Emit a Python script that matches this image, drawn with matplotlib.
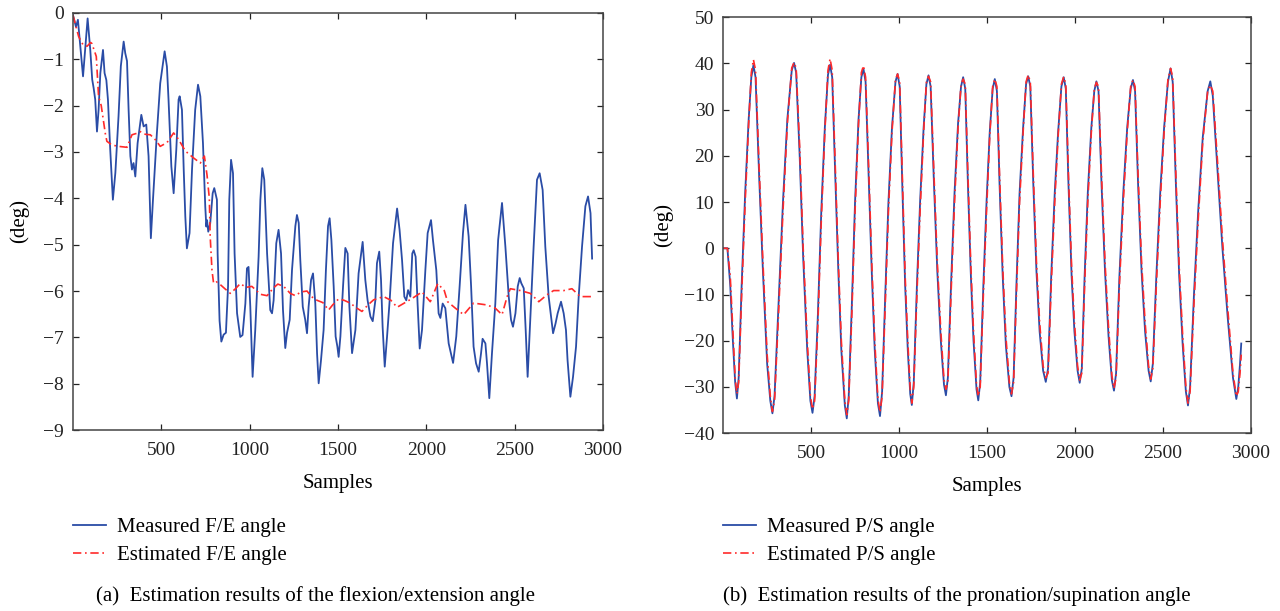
"""Two panels: measured vs estimated F/E and P/S wrist angles."""
import matplotlib

matplotlib.use("Agg")
import matplotlib.pyplot as plt
from matplotlib.lines import Line2D

# ---- F/E angle (left panel) ----
fe_meas_x = [
    0, 17, 28, 57, 70, 83, 98, 109, 117, 126, 136, 145, 155, 164, 170, 179,
    189, 198, 211, 226, 240, 258, 271, 287, 296, 306, 315, 325, 334, 343, 353,
    366, 387, 400, 415, 428, 441, 453, 475, 494, 519, 532, 541, 557, 570, 585,
    598, 604, 617, 627, 636, 645, 660, 674, 692, 708, 721, 736, 749, 755, 759,
    766, 777, 791, 800, 815, 819, 830, 840, 853, 866, 878, 885, 895, 906, 915,
    929, 947, 960, 976, 985, 994, 1004, 1017, 1032, 1051, 1061, 1072, 1083,
    1099, 1117, 1127, 1136, 1151, 1164, 1178, 1189, 1202, 1212, 1227, 1240,
    1259, 1268, 1278, 1287, 1301, 1315, 1325, 1334, 1348, 1359, 1372, 1382,
    1391, 1404, 1419, 1432, 1444, 1453, 1463, 1476, 1487, 1497, 1504, 1514,
    1529, 1542, 1555, 1565, 1580, 1599, 1617, 1640, 1655, 1668, 1684, 1697,
    1712, 1721, 1734, 1744, 1753, 1765, 1778, 1793, 1812, 1835, 1849, 1863,
    1876, 1887, 1897, 1910, 1921, 1929, 1940, 1951, 1963, 1976, 1995, 2008,
    2027, 2038, 2057, 2070, 2080, 2093, 2108, 2127, 2152, 2170, 2189, 2208,
    2222, 2240, 2254, 2268, 2282, 2297, 2310, 2319, 2335, 2344, 2357, 2372,
    2391, 2407, 2429, 2448, 2467, 2480, 2491, 2505, 2518, 2529, 2538, 2552,
    2563, 2574, 2589, 2608, 2627, 2642, 2659, 2674, 2693, 2718, 2732, 2744,
    2763, 2778, 2791, 2800, 2816, 2831, 2848, 2863, 2882, 2901, 2916, 2930,
    2939,
]
fe_meas_y = [
    -0.05, -0.30, -0.15, -1.37, -0.74, -0.12, -0.80, -1.44, -1.62, -1.87,
    -2.56, -2.10, -1.30, -1.00, -0.80, -1.30, -1.45, -1.87, -2.95, -4.03,
    -3.45, -2.23, -1.15, -0.62, -0.87, -1.04, -2.09, -3.09, -3.38, -3.24,
    -3.53, -2.81, -2.20, -2.45, -2.41, -3.09, -4.86, -4.03, -2.60, -1.52,
    -0.83, -1.16, -1.87, -3.31, -3.89, -2.95, -1.87, -1.80, -2.09, -3.38,
    -4.39, -5.08, -4.75, -3.38, -2.09, -1.55, -1.80, -2.81, -4.18, -4.61,
    -4.47, -4.72, -4.54, -3.89, -3.78, -4.03, -5.19, -6.64, -7.09, -6.94,
    -6.90, -5.90, -4.03, -3.17, -3.46, -5.19, -6.48, -6.99, -6.95, -6.27,
    -5.51, -5.48, -6.34, -7.85, -6.84, -5.26, -4.03, -3.35, -3.60, -5.19,
    -6.41, -6.48, -6.20, -4.97, -4.68, -5.19, -6.41, -7.23, -6.90, -6.62,
    -5.55, -4.60, -4.36, -4.53, -5.33, -6.34, -6.62, -6.91, -6.34, -5.76,
    -5.62, -6.27, -7.35, -7.99, -7.50, -6.84, -5.55, -4.60, -4.43, -4.90,
    -5.90, -6.98, -7.20, -7.42, -6.98, -5.90, -5.07, -5.19, -6.34, -7.34,
    -6.84, -5.62, -4.94, -5.76, -6.20, -6.55, -6.65, -6.20, -5.40, -5.15,
    -5.76, -6.77, -7.63, -6.99, -6.20, -4.97, -4.22, -4.68, -5.33, -6.12,
    -6.20, -5.98, -6.12, -5.19, -5.12, -5.26, -6.27, -7.24, -6.84, -5.55,
    -4.75, -4.47, -4.90, -5.55, -6.48, -6.58, -6.27, -6.37, -7.13, -7.55,
    -6.98, -5.90, -4.75, -4.14, -4.82, -5.90, -7.20, -7.56, -7.74, -7.35,
    -7.03, -7.13, -7.56, -8.31, -7.35, -6.27, -4.90, -4.10, -5.04, -6.12,
    -6.62, -6.77, -6.48, -5.90, -5.72, -5.83, -5.94, -6.84, -7.85, -6.62,
    -5.04, -3.60, -3.46, -3.82, -5.04, -6.12, -6.91, -6.70, -6.48, -6.23,
    -6.48, -6.84, -7.49, -8.28, -7.85, -7.20, -6.12, -5.04, -4.17, -3.96,
    -4.32, -5.30,
]

fe_est_x = [
    0, 32, 57, 80, 100, 107, 132, 145, 160, 183, 192, 220, 258, 306, 334, 360,
    380, 410, 438, 470, 494, 532, 570, 598, 636, 683, 721, 744, 759, 772, 777,
    787, 796, 810, 825, 860, 891, 920, 947, 980, 1013, 1061, 1099, 1136, 1160,
    1193, 1230, 1259, 1290, 1325, 1350, 1382, 1415, 1447, 1470, 1504, 1535,
    1570, 1600, 1636, 1670, 1702, 1759, 1800, 1835, 1880, 1920, 1976, 2023,
    2065, 2102, 2121, 2165, 2212, 2268, 2344, 2391, 2429, 2458, 2476, 2533,
    2589, 2637, 2684, 2721, 2778, 2825, 2872, 2939,
]
fe_est_y = [
    -0.05, -0.51, -0.69, -0.72, -0.64, -0.66, -0.94, -1.80, -2.00, -2.60,
    -2.77, -2.85, -2.88, -2.90, -2.63, -2.60, -2.56, -2.62, -2.63, -2.75,
    -2.88, -2.80, -2.59, -2.73, -2.98, -3.13, -3.24, -3.09, -3.50, -4.00,
    -4.83, -5.55, -5.83, -5.80, -5.83, -5.95, -6.05, -5.95, -5.84, -5.92,
    -5.90, -6.07, -6.10, -5.93, -5.85, -5.90, -6.05, -6.10, -6.02, -6.00,
    -6.12, -6.20, -6.25, -6.41, -6.30, -6.17, -6.20, -6.26, -6.35, -6.44,
    -6.30, -6.19, -6.12, -6.20, -6.35, -6.25, -6.16, -6.02, -6.23, -5.84,
    -5.99, -6.23, -6.37, -6.51, -6.26, -6.30, -6.37, -6.51, -6.12, -5.95,
    -5.99, -6.05, -6.23, -6.08, -5.99, -5.99, -5.95, -6.12, -6.12,
]

# ---- P/S angle (right panel) ----
ps_x = [
    0, 24, 40, 55, 68, 78,
    88, 105, 125, 145, 160, 172,
    184, 205, 226, 250, 268, 280,
    292, 315, 340, 365, 390, 403,
    415, 435, 455, 478, 496, 508,
    520, 538, 558, 578, 596, 608,
    620, 638, 655, 672, 692, 703,
    714, 732, 750, 770, 786, 798,
    810, 828, 845, 862, 880, 892,
    904, 922, 940, 960, 980, 992,
    1004, 1020, 1035, 1050, 1064, 1073,
    1084, 1102, 1120, 1140, 1156, 1168,
    1180, 1198, 1218, 1238, 1256, 1267,
    1278, 1296, 1316, 1336, 1353, 1365,
    1377, 1392, 1408, 1424, 1441, 1451,
    1462, 1480, 1498, 1516, 1533, 1545,
    1557, 1572, 1590, 1608, 1628, 1640,
    1652, 1668, 1686, 1706, 1723, 1735,
    1747, 1764, 1782, 1800, 1820, 1835,
    1848, 1866, 1886, 1905, 1924, 1937,
    1949, 1964, 1982, 1998, 2016, 2028,
    2040, 2056, 2074, 2094, 2111, 2123,
    2135, 2152, 2172, 2192, 2211, 2223,
    2235, 2254, 2276, 2298, 2318, 2331,
    2343, 2360, 2380, 2400, 2420, 2432,
    2444, 2464, 2486, 2508, 2530, 2545,
    2557, 2575, 2594, 2614, 2632, 2644,
    2656, 2678, 2702, 2728, 2756, 2771,
    2785, 2810, 2840, 2870, 2900, 2919,
    2930, 2940, 2947,
]
ps_measured = [
    0, 0, -8, -20, -29, -32.5,
    -28, -8, 12, 28, 37, 39.6,
    37, 15, -5, -25, -33, -35.7,
    -32, -12, 10, 28, 38.5, 40.1,
    38, 20, -2, -22, -33, -35.6,
    -32, -15, 8, 26, 37.5, 39.7,
    37, 15, -5, -22, -34, -36.8,
    -32, -12, 10, 28, 37, 38.8,
    36, 15, -5, -22, -33.5, -36.3,
    -31, -10, 10, 26, 36, 37.7,
    35, 12, -8, -22, -31.5, -33.9,
    -29, -8, 10, 26, 35.5, 37.4,
    35, 15, -5, -20, -29.5, -31.8,
    -28, -8, 12, 27, 35, 37.0,
    34.5, 14, -5, -20, -30.5, -32.9,
    -29, -8, 10, 25, 34.5, 36.6,
    34, 14, -6, -21, -30, -32.0,
    -28, -8, 12, 26, 35.5, 37.2,
    35, 14, -5, -18, -26.5, -28.9,
    -26, -6, 12, 25, 35, 37.0,
    34.5, 14, -6, -18, -26.5, -29.1,
    -26, -6, 12, 26, 34, 36.1,
    34, 14, -5, -19, -28.5, -30.8,
    -27, -6, 12, 26, 34.5, 36.4,
    34, 14, -5, -18, -26.5, -28.8,
    -25, -6, 12, 26, 36, 38.9,
    36, 14, -6, -21, -31, -34.0,
    -30, -10, 8, 24, 34, 36.1,
    33, 18, 0, -15, -28, -32.6,
    -30, -25, -20.6,
]
ps_estimated = [
    0, 0, -6, -18, -28, -31.5,
    -29, -10, 10, 27, 38, 40.8,
    38.5, 17, -3, -23, -32, -35.3,
    -33, -14, 8, 27, 39, 40.2,
    39, 22, 0, -20, -32, -34.8,
    -33, -17, 6, 25, 38.5, 41.0,
    38.5, 17, -3, -20, -33, -36.0,
    -33, -14, 8, 27, 38, 39.5,
    37, 17, -3, -20, -32.5, -35.5,
    -32, -12, 8, 25, 36.5, 37.7,
    36, 14, -6, -20, -30.5, -33.5,
    -30, -10, 8, 25, 36, 37.2,
    36, 17, -3, -18, -28.5, -30.5,
    -29, -10, 10, 26, 35.5, 36.6,
    35.5, 16, -3, -18, -29.5, -32.0,
    -30, -10, 8, 24, 35, 36.6,
    35, 16, -4, -19, -29, -31.5,
    -29, -10, 10, 25, 36, 37.5,
    36, 16, -3, -16, -25.5, -28.0,
    -27, -8, 10, 24, 35.5, 37.1,
    35.5, 16, -4, -16, -25.5, -28.5,
    -27, -8, 10, 25, 34.5, 35.9,
    35, 16, -3, -17, -27.5, -30.3,
    -28, -8, 10, 25, 35, 36.4,
    35, 16, -3, -16, -25.5, -28.3,
    -26, -8, 10, 25, 36.5, 38.9,
    37, 16, -4, -19, -30, -33.5,
    -31, -12, 6, 23, 34, 35.3,
    34, 20, 2, -13, -27, -32.0,
    -31, -27, -23,
]

x_ticks = [500, 1000, 1500, 2000, 2500, 3000]
fe_ticks = [0, -1, -2, -3, -4, -5, -6, -7, -8, -9]
ps_ticks = [-40, -30, -20, -10, 0, 10, 20, 30, 40, 50]

BLUE = "#2a4ca6"
RED = "#ff2a2a"
DASHDOT = (0, (5, 2.2, 1, 2.2))
TEXT_SIZE = 15

plt.rcParams["font.family"] = ["Liberation Serif", "DejaVu Serif"]
plt.rcParams["axes.unicode_minus"] = True

fig = plt.figure(figsize=(12.8, 6.11), dpi=100)
ax_fe = fig.add_axes([0.057, 0.296, 0.414, 0.683])
ax_ps = fig.add_axes([0.565, 0.291, 0.412, 0.681])


def style_axes(ax, yticks, ylim, ylabel_x):
    ax.set_xlim(0, 3000)
    ax.set_ylim(*ylim)
    ax.set_xticks(x_ticks)
    ax.set_yticks(yticks)
    ax.tick_params(direction="in", top=True, right=True, length=4,
                   width=0.9, labelsize=14, colors="#222222")
    ax.tick_params(axis="x", pad=8.5)
    ax.tick_params(axis="y", pad=6.5)
    for spine in ax.spines.values():
        spine.set_color("#444444")
        spine.set_linewidth(1.1)
    ax.set_xlabel("Samples", fontsize=TEXT_SIZE)
    ax.xaxis.set_label_coords(0.5, -0.127)
    ax.xaxis.label.set_va("center")
    ax.set_ylabel("(deg)", fontsize=TEXT_SIZE)
    ax.yaxis.set_label_coords(ylabel_x, 0.5)
    ax.yaxis.label.set_va("center")


ax_fe.plot(fe_meas_x, fe_meas_y, color=BLUE, lw=1.3)
ax_fe.plot(fe_est_x, fe_est_y, color=RED, lw=1.2, linestyle=DASHDOT)
style_axes(ax_fe, fe_ticks, (-9, 0), -0.102)

ax_ps.plot(ps_x, ps_measured, color=BLUE, lw=1.3)
ax_ps.plot(ps_x, ps_estimated, color=RED, lw=1.2, linestyle=DASHDOT)
style_axes(ax_ps, ps_ticks, (-40, 50), -0.114)

# legends below each panel
for x0, tag in [(73 / 1280, "F/E"), (723 / 1280, "P/S")]:
    handles = [
        Line2D([], [], color=BLUE, lw=1.3),
        Line2D([], [], color=RED, lw=1.2, linestyle=DASHDOT),
    ]
    labels = [f"Measured {tag} angle", f"Estimated {tag} angle"]
    fig.legend(handles, labels, loc="center left",
               bbox_to_anchor=(x0, 1 - 541.5 / 611), frameon=False,
               fontsize=TEXT_SIZE, handlelength=1.6, handletextpad=0.52,
               borderpad=0, borderaxespad=0, labelspacing=0.42)

fig.text(96 / 1280, 1 - 596 / 611,
         "(a)  Estimation results of the flexion/extension angle",
         fontsize=TEXT_SIZE, va="center", ha="left")
fig.text(723 / 1280, 1 - 596 / 611,
         "(b)  Estimation results of the pronation/supination angle",
         fontsize=TEXT_SIZE, va="center", ha="left")

fig.savefig("out.png", dpi=100)
